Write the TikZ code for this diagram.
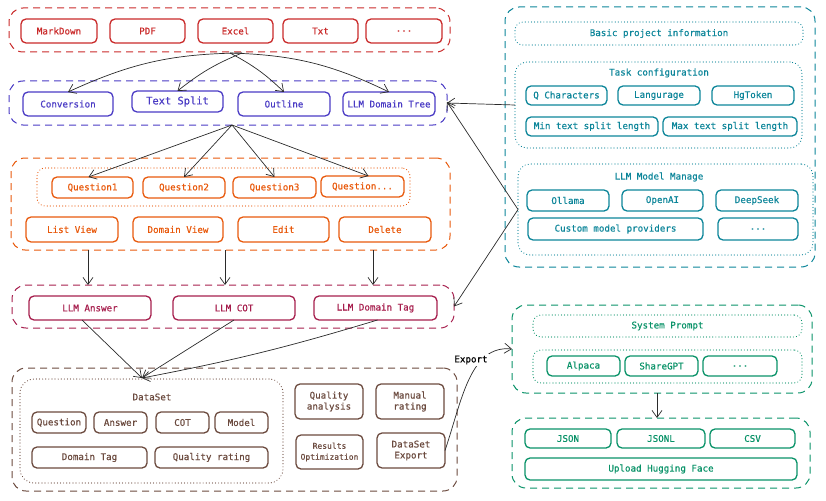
\documentclass[tikz,border=0pt]{standalone}
\usepackage{fontspec}
\newfontfamily\xmono[FakeBold=0.5]{DejaVu Sans Mono}
\usetikzlibrary{arrows.meta}
\definecolor{cred}{HTML}{C92A2A}
\definecolor{cblue}{HTML}{4A3BC4}
\definecolor{corange}{HTML}{E8590C}
\definecolor{cpink}{HTML}{A61E4D}
\definecolor{cbrown}{HTML}{6B4A3E}
\definecolor{cteal}{HTML}{0C8599}
\definecolor{cgreen}{HTML}{099268}
\definecolor{carrow}{HTML}{2B2B2B}
\tikzset{
  base/.style={inner sep=0pt, outer sep=0pt, align=center, font=\xmono\fontsize{9.2}{11}\selectfont},
  inbox/.style={base, draw=#1, text=#1, line width=1.3pt, rounded corners=5pt},
  outdash/.style={base, draw=#1, text=#1, line width=1pt, rounded corners=14pt, dash pattern=on 7pt off 5pt},
  outdot/.style={base, draw=#1, text=#1, line width=1.1pt, rounded corners=11pt, dash pattern=on 0.1pt off 3pt, line cap=round},
  grouplabel/.style={base, text=#1},
  arr/.style={draw=carrow, line width=0.7pt, -{Straight Barb[length=7pt,width=10pt]}},
}
\newcommand\mkbox[7]{\node[#2, anchor=north west, minimum width={(#5-#3)*1pt}, minimum height={(#6-#4)*1pt}] (#1) at (#3,#4) {#7};}
\begin{document}
\begin{tikzpicture}[x=1pt,y=-1pt]
\useasboundingbox (0,0) rectangle (826,500);
% ---------------- red: sources
\mkbox{redO}{outdash=cred}{9}{8}{450}{52}{}
\mkbox{md}{inbox=cred}{21}{19}{97}{43}{MarkDown}
\mkbox{pdf}{inbox=cred}{110}{19}{185}{43}{PDF}
\mkbox{xls}{inbox=cred}{198}{19}{273}{43}{Excel}
\mkbox{txt}{inbox=cred}{283}{19}{358}{43}{Txt}
\mkbox{rdots}{inbox=cred}{366}{19}{442}{43}{...}
% ---------------- blue: processing
\mkbox{blueO}{outdash=cblue}{9}{81}{447}{125}{}
\mkbox{conv}{inbox=cblue}{23}{92}{113}{116}{Conversion}
\mkbox{tsplit}{inbox=cblue, font=\xmono\fontsize{10.4}{12}\selectfont}{132}{91}{223}{112}{Text Split}
\mkbox{outl}{inbox=cblue}{238}{92}{330}{116}{Outline}
\mkbox{ldt}{inbox=cblue}{343}{92}{435}{116}{LLM Domain Tree}
% ---------------- orange: questions
\mkbox{orO}{outdash=corange}{11}{158}{450}{250}{}
\mkbox{qdot}{outdot=corange, rounded corners=8pt}{37}{168}{410}{206}{}
\mkbox{q1}{inbox=corange}{52}{177}{133}{198}{Question1}
\mkbox{q2}{inbox=corange}{143}{177}{225}{198}{Question2}
\mkbox{q3}{inbox=corange}{233}{177}{316}{198}{Question3}
\mkbox{q4}{inbox=corange}{321}{176}{404}{197}{Question...}
\mkbox{lv}{inbox=corange}{26}{217}{118}{242}{List View}
\mkbox{dv}{inbox=corange}{133}{217}{223}{242}{Domain View}
\mkbox{ed}{inbox=corange}{238}{217}{329}{242}{Edit}
\mkbox{del}{inbox=corange}{339}{217}{431}{242}{Delete}
% ---------------- pink: LLM
\mkbox{pkO}{outdash=cpink}{12}{285}{454}{328}{}
\mkbox{la}{inbox=cpink}{29}{296}{151}{320}{LLM Answer}
\mkbox{lc}{inbox=cpink}{173}{296}{295}{320}{LLM COT}
\mkbox{lt}{inbox=cpink}{314}{296}{437}{320}{LLM Domain Tag}
% ---------------- brown: dataset
\mkbox{brO}{outdash=cbrown}{12}{368}{457}{491}{}
\mkbox{dsdot}{outdot=cbrown, rounded corners=14pt}{20}{379}{283}{483}{}
\node[grouplabel=cbrown] (dslabel) at (152,397) {DataSet};
\mkbox{qq}{inbox=cbrown}{32}{412}{86}{433}{Question}
\mkbox{ans}{inbox=cbrown}{94}{412}{147}{433}{Answer}
\mkbox{cot}{inbox=cbrown}{156}{412}{209}{433}{COT}
\mkbox{mod}{inbox=cbrown}{215}{412}{268}{433}{Model}
\mkbox{dtag}{inbox=cbrown}{32}{447}{147}{468}{Domain Tag}
\mkbox{qr}{inbox=cbrown}{155}{447}{268}{468}{Quality rating}
\mkbox{qa}{inbox=cbrown}{295}{384}{363}{419}{Quality\\analysis}
\mkbox{mr}{inbox=cbrown}{376}{384}{444}{419}{Manual\\rating}
\mkbox{ro}{inbox=cbrown, font=\xmono\fontsize{8}{11}\selectfont}{296}{435}{363}{469}{Results\\Optimization}
\mkbox{dsx}{inbox=cbrown}{377}{433}{445}{468}{DataSet\\Export}
% ---------------- teal: configuration
\mkbox{tO}{outdash=cteal}{505}{7}{815}{267}{}
\mkbox{bpi}{outdot=cteal, rounded corners=8pt}{515}{22}{803}{45}{Basic project information}
\mkbox{tc}{outdot=cteal, rounded corners=12pt}{515}{62}{802}{148}{}
\node[grouplabel=cteal] (tclabel) at (659,73) {Task configuration};
\mkbox{qc}{inbox=cteal}{526}{86}{607}{105}{Q Characters}
\mkbox{lang}{inbox=cteal}{618}{86}{700}{105}{Langurage}
\mkbox{hg}{inbox=cteal}{712}{86}{794}{105}{HgToken}
\mkbox{mn}{inbox=cteal}{526}{117}{658}{136}{Min text split length}
\mkbox{mx}{inbox=cteal}{663}{117}{797}{136}{Max text split length}
\mkbox{lmm}{outdot=cteal, rounded corners=12pt}{518}{164}{813}{255}{}
\node[grouplabel=cteal] (lmmlabel) at (659,177) {LLM Model Manage};
\mkbox{oll}{inbox=cteal}{527}{190}{609}{211}{Ollama}
\mkbox{oai}{inbox=cteal}{622}{190}{703}{211}{OpenAI}
\mkbox{dsk}{inbox=cteal}{716}{190}{798}{211}{DeepSeek}
\mkbox{cmp}{inbox=cteal}{528}{218}{703}{240}{Custom model providers}
\mkbox{tdots}{inbox=cteal}{718}{218}{798}{240}{...}
% ---------------- green: export
\mkbox{g1}{outdash=cgreen}{512}{305}{812}{393}{}
\mkbox{sp}{outdot=cgreen, rounded corners=8pt}{533}{315}{802}{337}{System Prompt}
\mkbox{gdot}{outdot=cgreen, rounded corners=8pt}{533}{350}{802}{383}{}
\mkbox{alp}{inbox=cgreen}{547}{356}{620}{376}{Alpaca}
\mkbox{sgpt}{inbox=cgreen}{625}{356}{698}{376}{ShareGPT}
\mkbox{gdots}{inbox=cgreen}{703}{356}{777}{376}{...}
\mkbox{g2}{outdash=cgreen}{512}{418}{810}{488}{}
\mkbox{json}{inbox=cgreen}{525}{429}{611}{448}{JSON}
\mkbox{jsonl}{inbox=cgreen}{617}{429}{705}{448}{JSONL}
\mkbox{csv}{inbox=cgreen}{710}{429}{795}{448}{CSV}
\mkbox{uhf}{inbox=cgreen}{525}{458}{797}{480}{Upload Hugging Face}
% ---------------- connectors
\coordinate (rs1) at (242,53);
\coordinate (rs2) at (230,53);
\draw[arr] (rs1) to[bend right=12] (conv.north);
\draw[arr] (rs1) to[bend right=8] (tsplit.north);
\draw[arr] (rs2) to[bend left=8] (outl.north);
\draw[arr] (rs2) to[bend left=12] (ldt.north);
\coordinate (bs) at (232,125);
\draw[arr] (bs) -- ([xshift=-4pt]q1.north);
\draw[arr] (bs) -- (q2.north);
\draw[arr] (bs) -- (q3.north);
\draw[arr] (bs) -- ([xshift=6pt]q4.north);
\coordinate (o1) at (88,250);
\coordinate (o2) at (225,250);
\coordinate (o3) at (373,250);
\draw[arr] (o1) -- (o1 |- pkO.north);
\draw[arr] (o2) -- (o2 |- pkO.north);
\draw[arr] (o3) -- (o3 |- pkO.north);
\coordinate (dsin) at (142,378);
\draw[arr] ([xshift=-8pt]la.south) -- (dsin);
\draw[arr] (lc.south) -- (dsin);
\draw[arr] ([xshift=2pt]lt.south) to[bend left=3] (dsin);
\draw[arr] (tc.west) -- (blueO.east);
\draw[arr] (lmm.west) -- ([yshift=1pt]blueO.east);
\draw[arr] (lmm.west) -- (pkO.east);
\draw[arr] (dsx.east) .. controls (462,400) and (470,345) .. (g1.west);
\node[base, fill=white, inner sep=1.5pt, text=black] (exportlabel) at (471,360) {Export};
\draw[arr] ([xshift=-5pt]g1.south) -- ([xshift=-4pt]g2.north);
\end{tikzpicture}
\end{document}
